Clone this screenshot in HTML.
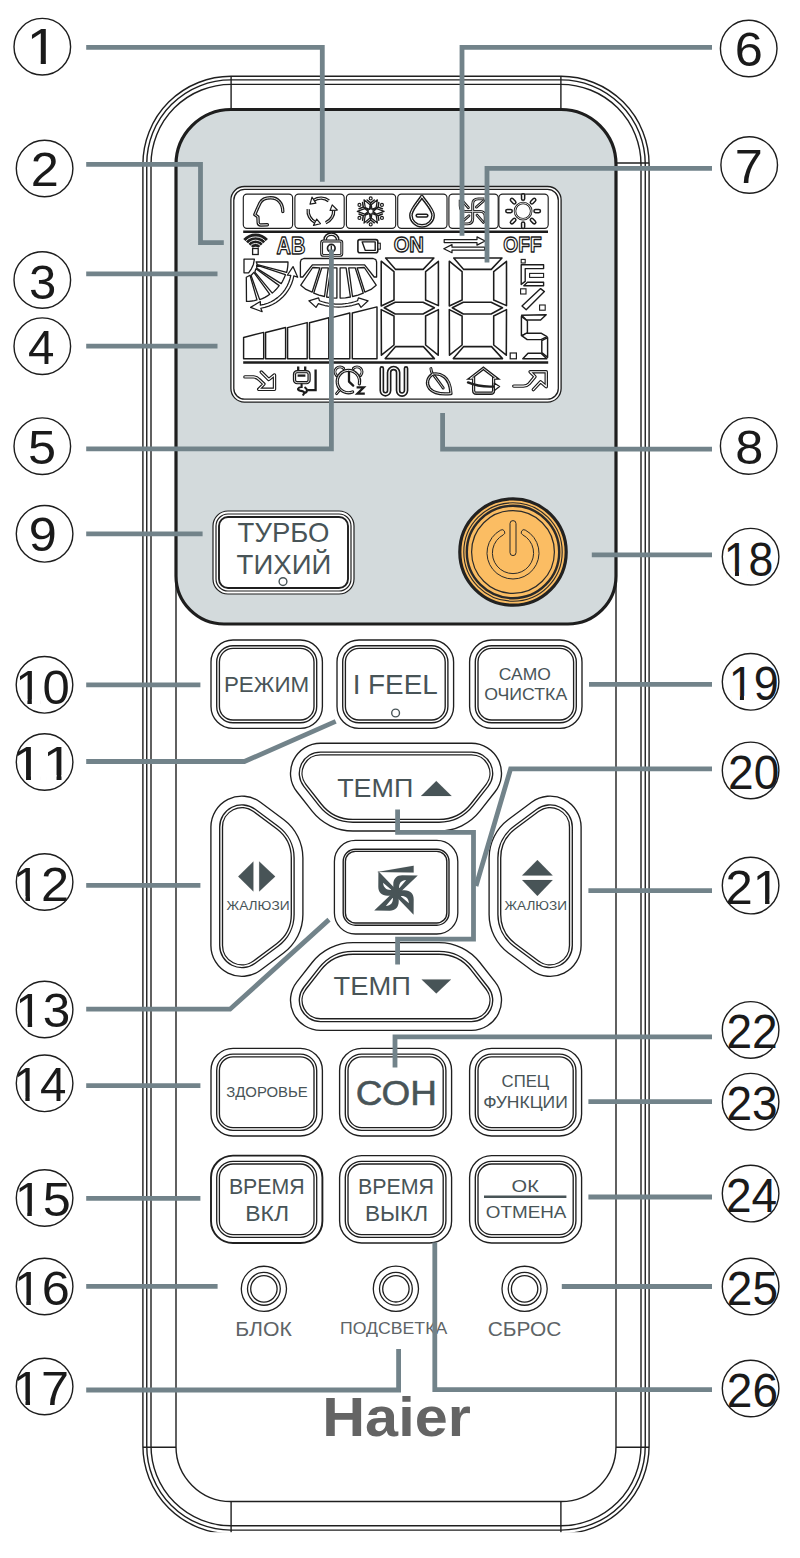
<!DOCTYPE html>
<html lang="ru"><head><meta charset="utf-8"><title>Haier remote</title>
<style>
html,body{margin:0;padding:0;background:#fff}
svg{display:block}
text{font-family:"Liberation Sans",sans-serif}
</style></head><body>
<svg width="800" height="1558" viewBox="0 0 800 1558">
<rect x="0" y="0" width="800" height="1558" fill="#fff"/>
<rect x="142.9" y="76.3" width="506.2" height="1457.5" rx="88" fill="#fff" stroke="#1f1f1f" stroke-width="1.4"/>
<rect x="146.75" y="79.9" width="498.5" height="1450.2" rx="84.2" fill="none" stroke="#1f1f1f" stroke-width="1.4"/>
<rect x="151" y="84.4" width="490" height="1441.4" rx="80" fill="none" stroke="#1f1f1f" stroke-width="1.4"/>
<rect x="176" y="109.5" width="440" height="1392" rx="55" fill="none" stroke="#1f1f1f" stroke-width="1.4"/>
<line x1="231.1" y1="76.3" x2="231.1" y2="109.5" stroke="#1f1f1f" stroke-width="1.4"/>
<line x1="231.1" y1="1501.5" x2="231.1" y2="1533" stroke="#1f1f1f" stroke-width="1.4"/>
<line x1="560.9" y1="76.3" x2="560.9" y2="109.5" stroke="#1f1f1f" stroke-width="1.4"/>
<line x1="560.9" y1="1501.5" x2="560.9" y2="1533" stroke="#1f1f1f" stroke-width="1.4"/>
<line x1="142.9" y1="1447.2" x2="176" y2="1447.2" stroke="#1f1f1f" stroke-width="1.4"/>
<line x1="142.9" y1="163" x2="176" y2="163" stroke="#1f1f1f" stroke-width="1.4"/>
<line x1="616" y1="1447.2" x2="649.1" y2="1447.2" stroke="#1f1f1f" stroke-width="1.4"/>
<line x1="616" y1="163" x2="649.1" y2="163" stroke="#1f1f1f" stroke-width="1.4"/>
<rect x="100" y="1532.2" width="600" height="26" fill="#fff"/>
<path d="M176,164.5 A55,55 0 0 1 231,109.5 H561 A55,55 0 0 1 616,164.5 V576 A48,48 0 0 1 568,624 H224 A48,48 0 0 1 176,576 Z" fill="#d3dadc" stroke="#1e1e1e" stroke-width="3.2" stroke-linejoin="round"/>
<g id="lcd">
<rect x="230.9" y="186.5" width="330.2" height="215.6" rx="13.5" fill="#fff" stroke="#1f1f1f" stroke-width="1.3"/>
<rect x="233.8" y="189.4" width="324.5" height="209.8" rx="10.8" fill="none" stroke="#1f1f1f" stroke-width="1.3"/>
<rect x="243.3" y="194.1" width="49.3" height="34.3" rx="3.6" fill="#fff" stroke="#1f1f1f" stroke-width="1.15"/>
<rect x="294.9" y="194.1" width="49.3" height="34.3" rx="3.6" fill="#fff" stroke="#1f1f1f" stroke-width="1.15"/>
<rect x="346.4" y="194.1" width="49.3" height="34.3" rx="3.6" fill="#fff" stroke="#1f1f1f" stroke-width="1.15"/>
<rect x="397.7" y="194.1" width="49.3" height="34.3" rx="3.6" fill="#fff" stroke="#1f1f1f" stroke-width="1.15"/>
<rect x="448.9" y="194.1" width="49.3" height="34.3" rx="3.6" fill="#fff" stroke="#1f1f1f" stroke-width="1.15"/>
<rect x="498.9" y="194.1" width="49.3" height="34.3" rx="3.6" fill="#fff" stroke="#1f1f1f" stroke-width="1.15"/>
<line x1="243.2" y1="231.75" x2="548" y2="231.75" stroke="#1c1c1c" stroke-width="2.4"/>
<line x1="243.2" y1="362.4" x2="548.2" y2="362.4" stroke="#1c1c1c" stroke-width="2.5"/>
<path d="M282.8,211.5 C282.8,203.5 278,197.8 270.75,197.8 C265,197.8 261.6,199.8 260,203 L257.4,208.6 L254.8,214.6 L257.9,216.8 L258.2,222.8 Q258.4,225 260.8,225 L267.4,224.8" fill="none" stroke="#1c1c1c" stroke-width="3.37" stroke-linecap="round" stroke-linejoin="round"/>
<path d="M282.8,211.5 C282.8,203.5 278,197.8 270.75,197.8 C265,197.8 261.6,199.8 260,203 L257.4,208.6 L254.8,214.6 L257.9,216.8 L258.2,222.8 Q258.4,225 260.8,225 L267.4,224.8" fill="none" stroke="#fff" stroke-width="0.92" stroke-linecap="round" stroke-linejoin="round"/>
<path d="M328.78,200.81 A12.8,12.8 0 0 0 313.74,200.29" fill="none" stroke="#1c1c1c" stroke-width="3.37" stroke-linecap="butt" stroke-linejoin="round"/>
<path d="M328.78,200.81 A12.8,12.8 0 0 0 313.74,200.29" fill="none" stroke="#fff" stroke-width="0.92" stroke-linecap="butt" stroke-linejoin="round"/>
<path d="M310.04,204.12L311.97,197.15L315.89,203.18Z" fill="#fff" stroke="#1c1c1c" stroke-width="1.19" stroke-linejoin="round"/>
<path d="M325.69,222.77 A12.8,12.8 0 0 0 333.67,210.01" fill="none" stroke="#1c1c1c" stroke-width="3.37" stroke-linecap="butt" stroke-linejoin="round"/>
<path d="M325.69,222.77 A12.8,12.8 0 0 0 333.67,210.01" fill="none" stroke="#fff" stroke-width="0.92" stroke-linecap="butt" stroke-linejoin="round"/>
<path d="M332.2,204.89L337.28,210.04L330.09,210.42Z" fill="#fff" stroke="#1c1c1c" stroke-width="1.19" stroke-linejoin="round"/>
<path d="M308.22,209.12 A12.8,12.8 0 0 0 315.29,222.4" fill="none" stroke="#1c1c1c" stroke-width="3.37" stroke-linecap="butt" stroke-linejoin="round"/>
<path d="M308.22,209.12 A12.8,12.8 0 0 0 315.29,222.4" fill="none" stroke="#fff" stroke-width="0.92" stroke-linecap="butt" stroke-linejoin="round"/>
<path d="M320.45,223.69L313.45,225.51L316.72,219.1Z" fill="#fff" stroke="#1c1c1c" stroke-width="1.19" stroke-linejoin="round"/>
<path d="M372.43,212.4L378.15,215.7" stroke="#1c1c1c" stroke-width="1.3" fill="none"/>
<path d="M382.41,213.98L378.15,215.7L378.79,220.26" stroke="#1c1c1c" stroke-width="1.5" fill="none" stroke-linecap="round" stroke-linejoin="round"/>
<circle cx="381.96" cy="217.9" r="1.45" fill="#fff" stroke="#1c1c1c" stroke-width="1.2"/>
<path d="M370.7,213.4L370.7,220" stroke="#1c1c1c" stroke-width="1.3" fill="none"/>
<path d="M374.32,222.83L370.7,220L367.08,222.83" stroke="#1c1c1c" stroke-width="1.5" fill="none" stroke-linecap="round" stroke-linejoin="round"/>
<circle cx="370.7" cy="224.4" r="1.45" fill="#fff" stroke="#1c1c1c" stroke-width="1.2"/>
<path d="M368.97,212.4L363.25,215.7" stroke="#1c1c1c" stroke-width="1.3" fill="none"/>
<path d="M362.61,220.26L363.25,215.7L358.99,213.98" stroke="#1c1c1c" stroke-width="1.5" fill="none" stroke-linecap="round" stroke-linejoin="round"/>
<circle cx="359.44" cy="217.9" r="1.45" fill="#fff" stroke="#1c1c1c" stroke-width="1.2"/>
<path d="M368.97,210.4L363.25,207.1" stroke="#1c1c1c" stroke-width="1.3" fill="none"/>
<path d="M358.99,208.82L363.25,207.1L362.61,202.54" stroke="#1c1c1c" stroke-width="1.5" fill="none" stroke-linecap="round" stroke-linejoin="round"/>
<circle cx="359.44" cy="204.9" r="1.45" fill="#fff" stroke="#1c1c1c" stroke-width="1.2"/>
<path d="M370.7,209.4L370.7,202.8" stroke="#1c1c1c" stroke-width="1.3" fill="none"/>
<path d="M367.08,199.97L370.7,202.8L374.32,199.97" stroke="#1c1c1c" stroke-width="1.5" fill="none" stroke-linecap="round" stroke-linejoin="round"/>
<circle cx="370.7" cy="198.4" r="1.45" fill="#fff" stroke="#1c1c1c" stroke-width="1.2"/>
<path d="M372.43,210.4L378.15,207.1" stroke="#1c1c1c" stroke-width="1.3" fill="none"/>
<path d="M378.79,202.54L378.15,207.1L382.41,208.82" stroke="#1c1c1c" stroke-width="1.5" fill="none" stroke-linecap="round" stroke-linejoin="round"/>
<circle cx="381.96" cy="204.9" r="1.45" fill="#fff" stroke="#1c1c1c" stroke-width="1.2"/>
<path d="M373.1,211.4L376.68,208.61L384.1,211.4L376.68,214.19Z" fill="#fff" stroke="#1c1c1c" stroke-width="1.25" stroke-linejoin="round"/>
<path d="M371.9,213.48L376.11,215.19L377.4,223L371.28,217.97Z" fill="#fff" stroke="#1c1c1c" stroke-width="1.25" stroke-linejoin="round"/>
<path d="M369.5,213.48L370.12,217.97L364,223L365.29,215.19Z" fill="#fff" stroke="#1c1c1c" stroke-width="1.25" stroke-linejoin="round"/>
<path d="M368.3,211.4L364.72,214.19L357.3,211.4L364.72,208.61Z" fill="#fff" stroke="#1c1c1c" stroke-width="1.25" stroke-linejoin="round"/>
<path d="M369.5,209.32L365.29,207.61L364,199.8L370.12,204.83Z" fill="#fff" stroke="#1c1c1c" stroke-width="1.25" stroke-linejoin="round"/>
<path d="M371.9,209.32L371.28,204.83L377.4,199.8L376.11,207.61Z" fill="#fff" stroke="#1c1c1c" stroke-width="1.25" stroke-linejoin="round"/>
<path d="M421.9,196.6 C417.5,203 410.9,210 410.9,215.3 A11.1,10.6 0 0 0 433.1,215.3 C433.1,210 426.4,203 421.9,196.6 Z" fill="none" stroke="#1c1c1c" stroke-width="3.65" stroke-linecap="round" stroke-linejoin="round"/>
<path d="M421.9,196.6 C417.5,203 410.9,210 410.9,215.3 A11.1,10.6 0 0 0 433.1,215.3 C433.1,210 426.4,203 421.9,196.6 Z" fill="none" stroke="#fff" stroke-width="0.98" stroke-linecap="round" stroke-linejoin="round"/>
<path d="M417.6,215.6 H426.4" fill="none" stroke="#1c1c1c" stroke-width="4.34" stroke-linecap="round" stroke-linejoin="round"/>
<path d="M417.6,215.6 H426.4" fill="none" stroke="#fff" stroke-width="1.26" stroke-linecap="round" stroke-linejoin="round"/>
<g transform="translate(472.7,211.4) rotate(0)">
<path d="M11.0,-10.7 L3.7,-4.3" fill="none" stroke="#1c1c1c" stroke-width="2.82" stroke-linecap="round" stroke-linejoin="round"/>
<path d="M11.0,-10.7 L3.7,-4.3" fill="none" stroke="#fff" stroke-width="0.8" stroke-linecap="round" stroke-linejoin="round"/>
</g>
<g transform="translate(472.7,211.4) rotate(90)">
<path d="M11.0,-10.7 L3.7,-4.3" fill="none" stroke="#1c1c1c" stroke-width="2.82" stroke-linecap="round" stroke-linejoin="round"/>
<path d="M11.0,-10.7 L3.7,-4.3" fill="none" stroke="#fff" stroke-width="0.8" stroke-linecap="round" stroke-linejoin="round"/>
</g>
<g transform="translate(472.7,211.4) rotate(180)">
<path d="M11.0,-10.7 L3.7,-4.3" fill="none" stroke="#1c1c1c" stroke-width="2.82" stroke-linecap="round" stroke-linejoin="round"/>
<path d="M11.0,-10.7 L3.7,-4.3" fill="none" stroke="#fff" stroke-width="0.8" stroke-linecap="round" stroke-linejoin="round"/>
</g>
<g transform="translate(472.7,211.4) rotate(270)">
<path d="M11.0,-10.7 L3.7,-4.3" fill="none" stroke="#1c1c1c" stroke-width="2.82" stroke-linecap="round" stroke-linejoin="round"/>
<path d="M11.0,-10.7 L3.7,-4.3" fill="none" stroke="#fff" stroke-width="0.8" stroke-linecap="round" stroke-linejoin="round"/>
</g>
<g transform="translate(472.7,211.4) rotate(0)">
<path d="M0,0 V-7.4 C0,-10.8 2,-12.5 5.6,-12.5 H11.6" fill="none" stroke="#1c1c1c" stroke-width="2.9" stroke-linecap="butt"/>
</g>
<g transform="translate(472.7,211.4) rotate(90)">
<path d="M0,0 V-7.4 C0,-10.8 2,-12.5 5.6,-12.5 H11.6" fill="none" stroke="#1c1c1c" stroke-width="2.9" stroke-linecap="butt"/>
</g>
<g transform="translate(472.7,211.4) rotate(180)">
<path d="M0,0 V-7.4 C0,-10.8 2,-12.5 5.6,-12.5 H11.6" fill="none" stroke="#1c1c1c" stroke-width="2.9" stroke-linecap="butt"/>
</g>
<g transform="translate(472.7,211.4) rotate(270)">
<path d="M0,0 V-7.4 C0,-10.8 2,-12.5 5.6,-12.5 H11.6" fill="none" stroke="#1c1c1c" stroke-width="2.9" stroke-linecap="butt"/>
</g>
<g transform="translate(472.7,211.4) rotate(0)">
<path d="M0,0 V-7.4 C0,-10.8 2,-12.5 5.6,-12.5 H11.0" fill="none" stroke="#fff" stroke-width="0.8" stroke-linecap="butt"/>
</g>
<g transform="translate(472.7,211.4) rotate(90)">
<path d="M0,0 V-7.4 C0,-10.8 2,-12.5 5.6,-12.5 H11.0" fill="none" stroke="#fff" stroke-width="0.8" stroke-linecap="butt"/>
</g>
<g transform="translate(472.7,211.4) rotate(180)">
<path d="M0,0 V-7.4 C0,-10.8 2,-12.5 5.6,-12.5 H11.0" fill="none" stroke="#fff" stroke-width="0.8" stroke-linecap="butt"/>
</g>
<g transform="translate(472.7,211.4) rotate(270)">
<path d="M0,0 V-7.4 C0,-10.8 2,-12.5 5.6,-12.5 H11.0" fill="none" stroke="#fff" stroke-width="0.8" stroke-linecap="butt"/>
</g>
<circle cx="523.1" cy="211.1" r="8.1" fill="#fff" stroke="#1c1c1c" stroke-width="2.5"/>
<circle cx="523.1" cy="211.1" r="8.1" fill="none" stroke="#fff" stroke-width="0.8"/>
<path d="M535.5,211.1L538.9,211.1" fill="none" stroke="#1c1c1c" stroke-width="4.62" stroke-linecap="round" stroke-linejoin="round"/>
<path d="M535.5,211.1L538.9,211.1" fill="none" stroke="#fff" stroke-width="1.61" stroke-linecap="round" stroke-linejoin="round"/>
<path d="M531.87,219.87L534.27,222.27" fill="none" stroke="#1c1c1c" stroke-width="4.62" stroke-linecap="round" stroke-linejoin="round"/>
<path d="M531.87,219.87L534.27,222.27" fill="none" stroke="#fff" stroke-width="1.61" stroke-linecap="round" stroke-linejoin="round"/>
<path d="M523.1,223.5L523.1,226.9" fill="none" stroke="#1c1c1c" stroke-width="4.62" stroke-linecap="round" stroke-linejoin="round"/>
<path d="M523.1,223.5L523.1,226.9" fill="none" stroke="#fff" stroke-width="1.61" stroke-linecap="round" stroke-linejoin="round"/>
<path d="M514.33,219.87L511.93,222.27" fill="none" stroke="#1c1c1c" stroke-width="4.62" stroke-linecap="round" stroke-linejoin="round"/>
<path d="M514.33,219.87L511.93,222.27" fill="none" stroke="#fff" stroke-width="1.61" stroke-linecap="round" stroke-linejoin="round"/>
<path d="M510.7,211.1L507.3,211.1" fill="none" stroke="#1c1c1c" stroke-width="4.62" stroke-linecap="round" stroke-linejoin="round"/>
<path d="M510.7,211.1L507.3,211.1" fill="none" stroke="#fff" stroke-width="1.61" stroke-linecap="round" stroke-linejoin="round"/>
<path d="M514.33,202.33L511.93,199.93" fill="none" stroke="#1c1c1c" stroke-width="4.62" stroke-linecap="round" stroke-linejoin="round"/>
<path d="M514.33,202.33L511.93,199.93" fill="none" stroke="#fff" stroke-width="1.61" stroke-linecap="round" stroke-linejoin="round"/>
<path d="M523.1,198.7L523.1,195.3" fill="none" stroke="#1c1c1c" stroke-width="4.62" stroke-linecap="round" stroke-linejoin="round"/>
<path d="M523.1,198.7L523.1,195.3" fill="none" stroke="#fff" stroke-width="1.61" stroke-linecap="round" stroke-linejoin="round"/>
<path d="M531.87,202.33L534.27,199.93" fill="none" stroke="#1c1c1c" stroke-width="4.62" stroke-linecap="round" stroke-linejoin="round"/>
<path d="M531.87,202.33L534.27,199.93" fill="none" stroke="#fff" stroke-width="1.61" stroke-linecap="round" stroke-linejoin="round"/>
<path d="M255.6,250.2 L243.26,239.09 A16.6,16.6 0 0 1 267.94,239.09 Z" fill="#1f1f1f"/>
<path d="M244.08,243.55 A13.3,13.3 0 0 1 267.12,243.55" fill="none" stroke="#fff" stroke-width="0.9"/>
<path d="M246.94,245.2 A10,10 0 0 1 264.26,245.2" fill="none" stroke="#fff" stroke-width="0.9"/>
<path d="M249.8,246.85 A6.7,6.7 0 0 1 261.4,246.85" fill="none" stroke="#fff" stroke-width="0.9"/>
<circle cx="255.6" cy="250.2" r="3.4" fill="#fff"/>
<rect x="252.6" y="248.5" width="5.6" height="6" fill="#fff" stroke="#1c1c1c" stroke-width="1.3"/>
<text x="276.6" y="253.7" font-size="23" font-weight="bold" fill="#fff" stroke="#1c1c1c" stroke-width="1.35" textLength="28.8" lengthAdjust="spacingAndGlyphs" stroke-linejoin="round">AB</text>
<text x="393.7" y="251.8" font-size="21.6" font-weight="bold" fill="#fff" stroke="#1c1c1c" stroke-width="1.35" textLength="30.2" lengthAdjust="spacingAndGlyphs" stroke-linejoin="round">ON</text>
<text x="503.3" y="252.2" font-size="22.8" font-weight="bold" fill="#fff" stroke="#1c1c1c" stroke-width="1.35" textLength="38.4" lengthAdjust="spacingAndGlyphs" stroke-linejoin="round">OFF</text>
<path d="M325.2,240.6 V239.6 A6.2,5.4 0 0 1 337.6,239.6 V240.6" fill="none" stroke="#1c1c1c" stroke-width="3.79" stroke-linecap="butt" stroke-linejoin="round"/>
<path d="M325.2,240.6 V239.6 A6.2,5.4 0 0 1 337.6,239.6 V240.6" fill="none" stroke="#fff" stroke-width="1.03" stroke-linecap="butt" stroke-linejoin="round"/>
<rect x="321.6" y="241" width="20.2" height="14.4" rx="1.8" fill="#fff" stroke="#1c1c1c" stroke-width="2.9"/>
<rect x="321.6" y="241" width="20.2" height="14.4" rx="1.8" fill="none" stroke="#fff" stroke-width="0.8"/>
<circle cx="331.3" cy="248.2" r="3.8" fill="#fff" stroke="#1f1f1f" stroke-width="1.7"/>
<line x1="331.3" y1="245.6" x2="331.3" y2="250.4" stroke="#1f1f1f" stroke-width="1.3"/>
<rect x="357.9" y="239.6" width="19.9" height="13.2" rx="2" fill="#fff" stroke="#1c1c1c" stroke-width="1.6"/>
<rect x="377.9" y="243.2" width="2.4" height="6" fill="#fff" stroke="#1c1c1c" stroke-width="1.1"/>
<path d="M362.2,241.9L375.2,241.9L375.2,250.4L365.3,250.4Z" fill="#fff" stroke="#1c1c1c" stroke-width="1.38" stroke-linejoin="round"/>
<path d="M444.2,239.5L477,239.5L477,236.9L485.2,241L477,245.1L477,242.5L444.2,242.5Z" fill="#fff" stroke="#1c1c1c" stroke-width="1.25" stroke-linejoin="round"/>
<path d="M484.6,247.2L452,247.2L452,244.6L443.8,248.7L452,252.8L452,250.2L484.6,250.2Z" fill="#fff" stroke="#1c1c1c" stroke-width="1.25" stroke-linejoin="round"/>
<path d="M244,259.2L254.4,259.2L253.4,264.4L251.4,268.8L248.6,272.8L244,272.8Z" fill="#fff" stroke="#1c1c1c" stroke-width="1.31" stroke-linejoin="round"/>
<path d="M256.2,261.85L288,262.02L287.9,264.62L287.65,267.22L287.23,269.79L286.65,272.34L257.33,264.7Z" fill="#fff" stroke="#1c1c1c" stroke-width="1.31" stroke-linejoin="round"/>
<path d="M256.65,265.24L285.39,274.68L284.54,277.02L283.55,279.3L282.43,281.51L281.18,283.66L256.8,268.42Z" fill="#fff" stroke="#1c1c1c" stroke-width="1.31" stroke-linejoin="round"/>
<path d="M255.93,268.82L279.21,285.61L277.65,287.63L275.97,289.56L274.16,291.37L272.25,293.07L254.84,272.17Z" fill="#fff" stroke="#1c1c1c" stroke-width="1.31" stroke-linejoin="round"/>
<path d="M253.84,272.32L269.8,294.28L267.42,295.89L264.93,297.32L262.34,298.56L259.67,299.62L251.06,275.46Z" fill="#fff" stroke="#1c1c1c" stroke-width="1.31" stroke-linejoin="round"/>
<path d="M250.01,275.27L256.98,299.9L254.4,300.54L251.78,301L249.13,301.29L246.48,301.4L246.31,277.3Z" fill="#fff" stroke="#1c1c1c" stroke-width="1.31" stroke-linejoin="round"/>
<path d="M290.79,275.28L287.29,275.25L293.03,266.62L297.69,277.28L293.84,275.82L292.92,279.83L291.59,283.72L289.87,287.45L287.77,290.99L285.31,294.29L282.53,297.32L279.45,300.05L276.11,302.45L272.54,304.49L268.77,306.14L264.86,307.41L260.83,308.26L260.83,308.26L262.15,311.74L250.55,307.39L260.35,301.5L260.35,305.2L264.06,304.41L267.67,303.25L271.14,301.72L274.44,299.84L277.52,297.63L280.36,295.11L282.92,292.32L285.19,289.27L287.12,286.01L288.71,282.57L289.94,278.98L290.79,275.28Z" fill="#fff" stroke="#1c1c1c" stroke-width="1.25" stroke-linejoin="round"/>
<path d="M300.4,277L300.4,262L301.2,259.6L303.8,258.5L373.2,258.5L375.8,259.6L376.6,262L376.6,277L374.2,277L364.6,264.8L312.4,264.8L302.8,277Z" fill="#fff" stroke="#1c1c1c" stroke-width="1.31" stroke-linejoin="round"/>
<path d="M312.7,267.5L319.9,267.8L312.1,292.2L306,289.4L300.8,285.2Z" fill="#fff" stroke="#1c1c1c" stroke-width="1.31" stroke-linejoin="round"/>
<path d="M364.3,267.5L357.1,267.8L364.9,292.2L371,289.4L376.2,285.2Z" fill="#fff" stroke="#1c1c1c" stroke-width="1.31" stroke-linejoin="round"/>
<path d="M321.8,267.8L328.3,267.8L324.5,296.5L319,295.2L313.7,293.2Z" fill="#fff" stroke="#1c1c1c" stroke-width="1.31" stroke-linejoin="round"/>
<path d="M355.2,267.8L348.7,267.8L352.5,296.5L358,295.2L363.3,293.2Z" fill="#fff" stroke="#1c1c1c" stroke-width="1.31" stroke-linejoin="round"/>
<path d="M330.9,267.8L336.9,267.8L336.9,298.1L331.6,297.8L326.6,297Z" fill="#fff" stroke="#1c1c1c" stroke-width="1.31" stroke-linejoin="round"/>
<path d="M346.1,267.8L340.1,267.8L340.1,298.1L345.4,297.8L350.4,297Z" fill="#fff" stroke="#1c1c1c" stroke-width="1.31" stroke-linejoin="round"/>
<path d="M357.55,300.74L358.4,297.9L368.1,300.8L361,307.4L358.58,303.56L355.34,304.63L352.04,305.52L348.69,306.21L345.31,306.7L341.91,307L338.5,307.1L335.09,307L331.69,306.7L328.31,306.21L324.96,305.52L321.66,304.63L318.42,303.56L316,307.4L308.9,300.8L318.6,297.9L319.45,300.74L322.53,301.76L325.65,302.6L328.83,303.25L332.03,303.72L335.26,304.01L338.5,304.1L341.74,304.01L344.97,303.72L348.17,303.25L351.35,302.6L354.47,301.76Z" fill="#fff" stroke="#1c1c1c" stroke-width="1.25" stroke-linejoin="round"/>
<path d="M243.6,337.5L263.7,332.38L263.7,358.7L243.6,358.7Z" fill="#fff" stroke="#1c1c1c" stroke-width="1.44" stroke-linejoin="round"/>
<path d="M265.6,332.55L285.6,327.45L285.6,358.7L265.6,358.7Z" fill="#fff" stroke="#1c1c1c" stroke-width="1.44" stroke-linejoin="round"/>
<path d="M287.6,327.6L307.2,322.6L307.2,358.7L287.6,358.7Z" fill="#fff" stroke="#1c1c1c" stroke-width="1.44" stroke-linejoin="round"/>
<path d="M309.5,322.68L328.8,317.74L328.8,358.7L309.5,358.7Z" fill="#fff" stroke="#1c1c1c" stroke-width="1.44" stroke-linejoin="round"/>
<path d="M330.8,317.89L349.8,313.02L349.8,358.7L330.8,358.7Z" fill="#fff" stroke="#1c1c1c" stroke-width="1.44" stroke-linejoin="round"/>
<path d="M352.3,313.05L377,306.9L377,358.7L352.3,358.7Z" fill="#fff" stroke="#1c1c1c" stroke-width="1.44" stroke-linejoin="round"/>
<path d="M385.6,258L433.9,258L423.2,269.4L395.6,269.4Z" fill="#fff" stroke="#1c1c1c" stroke-width="1.56" stroke-linejoin="round"/>
<path d="M381.2,261.2L394,271.6L394,300L381.2,306Z" fill="#fff" stroke="#1c1c1c" stroke-width="1.56" stroke-linejoin="round"/>
<path d="M438.4,261.4L425.6,271.6L425.6,300L438.4,305.6Z" fill="#fff" stroke="#1c1c1c" stroke-width="1.56" stroke-linejoin="round"/>
<path d="M384.2,307.8L395.2,302.2L423,302.2L434.4,307.8L423,314L395.2,314Z" fill="#fff" stroke="#1c1c1c" stroke-width="1.56" stroke-linejoin="round"/>
<path d="M381.2,309.6L394,316L394,345L381.4,355.2Z" fill="#fff" stroke="#1c1c1c" stroke-width="1.56" stroke-linejoin="round"/>
<path d="M438.4,309.6L425.6,316L425.6,345L438.2,355.2Z" fill="#fff" stroke="#1c1c1c" stroke-width="1.56" stroke-linejoin="round"/>
<path d="M385.2,358.6L395.6,346.6L423.4,346.6L434.4,358.6Z" fill="#fff" stroke="#1c1c1c" stroke-width="1.56" stroke-linejoin="round"/>
<path d="M453.7,258L502,258L491.3,269.4L463.7,269.4Z" fill="#fff" stroke="#1c1c1c" stroke-width="1.56" stroke-linejoin="round"/>
<path d="M449.3,261.2L462.1,271.6L462.1,300L449.3,306Z" fill="#fff" stroke="#1c1c1c" stroke-width="1.56" stroke-linejoin="round"/>
<path d="M506.5,261.4L493.7,271.6L493.7,300L506.5,305.6Z" fill="#fff" stroke="#1c1c1c" stroke-width="1.56" stroke-linejoin="round"/>
<path d="M452.3,307.8L463.3,302.2L491.1,302.2L502.5,307.8L491.1,314L463.3,314Z" fill="#fff" stroke="#1c1c1c" stroke-width="1.56" stroke-linejoin="round"/>
<path d="M449.3,309.6L462.1,316L462.1,345L449.5,355.2Z" fill="#fff" stroke="#1c1c1c" stroke-width="1.56" stroke-linejoin="round"/>
<path d="M506.5,309.6L493.7,316L493.7,345L506.3,355.2Z" fill="#fff" stroke="#1c1c1c" stroke-width="1.56" stroke-linejoin="round"/>
<path d="M453.3,358.6L463.7,346.6L491.5,346.6L502.5,358.6Z" fill="#fff" stroke="#1c1c1c" stroke-width="1.56" stroke-linejoin="round"/>
<rect x="521.2" y="259.4" width="4" height="3.6" fill="#fff" stroke="#1c1c1c" stroke-width="1.1"/>
<path d="M521.2,264.8L543.6,264.8L543.6,268.6L525.2,268.6L525.2,281.4L521.2,284.4Z" fill="#fff" stroke="#1c1c1c" stroke-width="1.38" stroke-linejoin="round"/>
<rect x="529.6" y="273.4" width="14" height="4" fill="#fff" stroke="#1c1c1c" stroke-width="1.1"/>
<path d="M523.8,285.7L527.4,282.3L543.6,282.3L543.6,285.7Z" fill="#fff" stroke="#1c1c1c" stroke-width="1.38" stroke-linejoin="round"/>
<rect x="520.6" y="288.8" width="5.4" height="5.2" fill="#fff" stroke="#1c1c1c" stroke-width="1.1"/>
<path d="M522,306L526.2,309.8L544.4,291.6L540.6,288.6Z" fill="#fff" stroke="#1c1c1c" stroke-width="1.38" stroke-linejoin="round"/>
<rect x="539.6" y="305" width="5.6" height="5.2" fill="#fff" stroke="#1c1c1c" stroke-width="1.1"/>
<path d="M521.6,315.2L546.2,314.8L540.6,320L526.4,320Z" fill="#fff" stroke="#1c1c1c" stroke-width="1.44" stroke-linejoin="round"/>
<path d="M521.4,316.4L527.4,321L527.4,333.2L521.4,335.6Z" fill="#fff" stroke="#1c1c1c" stroke-width="1.44" stroke-linejoin="round"/>
<path d="M522,335.9L526.4,333.2L541,333.2L547,336.6L541,339.6L527.2,339.6Z" fill="#fff" stroke="#1c1c1c" stroke-width="1.44" stroke-linejoin="round"/>
<path d="M547.6,337.6L541.8,340.6L541.8,352.6L547.6,357.4Z" fill="#fff" stroke="#1c1c1c" stroke-width="1.44" stroke-linejoin="round"/>
<path d="M522.8,358.8L528,353.2L541,353.2L546.8,358.8Z" fill="#fff" stroke="#1c1c1c" stroke-width="1.44" stroke-linejoin="round"/>
<rect x="510.2" y="353" width="6.2" height="5.8" fill="#fff" stroke="#1c1c1c" stroke-width="1.2"/>
<path d="M244.9,376.9 H253.6 Q257,377.2 259.2,379.6 L263.9,384.1 L258.7,389.3 H274.5 V374.9 L268.75,379.5 L261.3,372.05" fill="none" stroke="#1c1c1c" stroke-width="3.44" stroke-linecap="round" stroke-linejoin="round"/>
<path d="M244.9,376.9 H253.6 Q257,377.2 259.2,379.6 L263.9,384.1 L258.7,389.3 H274.5 V374.9 L268.75,379.5 L261.3,372.05" fill="none" stroke="#fff" stroke-width="1.15" stroke-linecap="round" stroke-linejoin="round"/>
<rect x="294.5" y="371.7" width="14.6" height="11.0" rx="2.6" fill="#fff" stroke="#1c1c1c" stroke-width="3.3"/>
<rect x="294.5" y="371.7" width="14.6" height="11.0" rx="2.6" fill="none" stroke="#fff" stroke-width="0.8"/>
<path d="M298.2,370.2 V366.6 M305.2,370.2 V366.6" stroke="#1c1c1c" stroke-width="2.3" fill="none"/>
<path d="M297.6,375.6 H305.4" stroke="#1c1c1c" stroke-width="2.3" fill="none"/>
<path d="M301.6,384.4 V387 C297.8,387.2 296.6,390 300,390.6 C304,391.2 305.4,392.4 303.2,394.8 M305.2,387.6 C308,389.6 307.2,392.2 304.8,393" stroke="#1c1c1c" stroke-width="2.1" fill="none" stroke-linecap="round"/>
<path d="M315.6,369.4 V390.2 H307.2" stroke="#1c1c1c" stroke-width="2.3" fill="none"/>
<path d="M352.6,391.98 A11.2,11.2 0 1 1 359.36,383.93" fill="none" stroke="#1c1c1c" stroke-width="3.24" stroke-linecap="round" stroke-linejoin="round"/>
<path d="M352.6,391.98 A11.2,11.2 0 1 1 359.36,383.93" fill="none" stroke="#fff" stroke-width="0.92" stroke-linecap="round" stroke-linejoin="round"/>
<path d="M336.4,375.4 A4.6,4.6 0 0 1 343.6,368.4" fill="none" stroke="#1c1c1c" stroke-width="2.96" stroke-linecap="round" stroke-linejoin="round"/>
<path d="M336.4,375.4 A4.6,4.6 0 0 1 343.6,368.4" fill="none" stroke="#fff" stroke-width="0.86" stroke-linecap="round" stroke-linejoin="round"/>
<path d="M353.4,368.4 A4.6,4.6 0 0 1 360.6,375.4" fill="none" stroke="#1c1c1c" stroke-width="2.96" stroke-linecap="round" stroke-linejoin="round"/>
<path d="M353.4,368.4 A4.6,4.6 0 0 1 360.6,375.4" fill="none" stroke="#fff" stroke-width="0.86" stroke-linecap="round" stroke-linejoin="round"/>
<path d="M339.2,390.4 L336.6,393.6" fill="none" stroke="#1c1c1c" stroke-width="2.96" stroke-linecap="round" stroke-linejoin="round"/>
<path d="M339.2,390.4 L336.6,393.6" fill="none" stroke="#fff" stroke-width="0.86" stroke-linecap="round" stroke-linejoin="round"/>
<path d="M349,371.8 V381.6 L353.2,385.6" stroke="#1c1c1c" stroke-width="2.3" fill="none" stroke-linecap="round" stroke-linejoin="round"/>
<path d="M356.6,387.4 H363.8 L357.4,393.6 H364.8" stroke="#1c1c1c" stroke-width="2.2" fill="none" stroke-linejoin="miter"/>
<path d="M381.8,368.4 V390.6 A3.65,3.65 0 0 0 389.1,390.6 V372.6 A4.5,4.5 0 0 1 398.1,372.6 V390.6 A3.95,3.95 0 0 0 406,390.6 V368.4" fill="none" stroke="#1c1c1c" stroke-width="4.75" stroke-linecap="round" stroke-linejoin="round"/>
<path d="M381.8,368.4 V390.6 A3.65,3.65 0 0 0 389.1,390.6 V372.6 A4.5,4.5 0 0 1 398.1,372.6 V390.6 A3.95,3.95 0 0 0 406,390.6 V368.4" fill="none" stroke="#fff" stroke-width="1.49" stroke-linecap="round" stroke-linejoin="round"/>
<path d="M430.9,368.6 C431.2,371 431.8,372.6 432.6,374.2" fill="none" stroke="#1c1c1c" stroke-width="2.96" stroke-linecap="round" stroke-linejoin="round"/>
<path d="M430.9,368.6 C431.2,371 431.8,372.6 432.6,374.2" fill="none" stroke="#fff" stroke-width="0.8" stroke-linecap="round" stroke-linejoin="round"/>
<path d="M432.6,374.2 C427.6,377.4 425.6,383.4 429.6,388.6 C434,393.6 443,394.4 451,393.6 C450.6,388 449.6,380.6 444,376.6 C440.4,374 436.2,373.4 432.6,374.2 Z" fill="none" stroke="#1c1c1c" stroke-width="3.24" stroke-linecap="round" stroke-linejoin="round"/>
<path d="M432.6,374.2 C427.6,377.4 425.6,383.4 429.6,388.6 C434,393.6 443,394.4 451,393.6 C450.6,388 449.6,380.6 444,376.6 C440.4,374 436.2,373.4 432.6,374.2 Z" fill="none" stroke="#fff" stroke-width="0.86" stroke-linecap="round" stroke-linejoin="round"/>
<path d="M434.4,376 C437.6,380 440.4,384.4 443.2,388" fill="none" stroke="#1c1c1c" stroke-width="2.96" stroke-linecap="round" stroke-linejoin="round"/>
<path d="M434.4,376 C437.6,380 440.4,384.4 443.2,388" fill="none" stroke="#fff" stroke-width="0.8" stroke-linecap="round" stroke-linejoin="round"/>
<path d="M470.6,378.2 L483.4,368.4 L496.2,378.2 H493.6 V390.6 Q493.6,393.4 490.8,393.4 H476.4 Q473.6,393.4 473.6,390.6 V378.2 Z" fill="none" stroke="#1c1c1c" stroke-width="3.24" stroke-linecap="round" stroke-linejoin="miter"/>
<path d="M470.6,378.2 L483.4,368.4 L496.2,378.2 H493.6 V390.6 Q493.6,393.4 490.8,393.4 H476.4 Q473.6,393.4 473.6,390.6 V378.2 Z" fill="none" stroke="#fff" stroke-width="0.86" stroke-linecap="round" stroke-linejoin="miter"/>
<path d="M475,392.6 H492.4" stroke="#555" stroke-width="2.2" fill="none"/>
<path d="M468,382.4 C476,386 486,387 495.4,386.4" stroke="#1f1f1f" stroke-width="2.4" fill="none" stroke-linecap="round"/>
<path d="M494.2,383L499.6,386.6L494.4,390.4Z" fill="#fff" stroke="#1c1c1c" stroke-width="1.25" stroke-linejoin="round"/>
<path d="M513.75,386.1 H523.4 Q527,386 529.2,383.6 L535,376.65 L530.1,371.75 H546.25 V386.7 L540.5,381.8 L533.3,389.6" fill="none" stroke="#1c1c1c" stroke-width="3.44" stroke-linecap="round" stroke-linejoin="round"/>
<path d="M513.75,386.1 H523.4 Q527,386 529.2,383.6 L535,376.65 L530.1,371.75 H546.25 V386.7 L540.5,381.8 L533.3,389.6" fill="none" stroke="#fff" stroke-width="1.15" stroke-linecap="round" stroke-linejoin="round"/>
</g>
<path d="M228,511L339,511A15,15 0 0 1 354,526L354,579A15,15 0 0 1 339,594L228,594A15,15 0 0 1 213,579L213,526A15,15 0 0 1 228,511Z" fill="#fff" stroke="#1f1f1f" stroke-width="1.2"/>
<path d="M228,514L339,514A12,12 0 0 1 351,526L351,579A12,12 0 0 1 339,591L228,591A12,12 0 0 1 216,579L216,526A12,12 0 0 1 228,514Z" fill="none" stroke="#1f1f1f" stroke-width="1.2"/>
<path d="M228,517L339,517A9,9 0 0 1 348,526L348,579A9,9 0 0 1 339,588L228,588A9,9 0 0 1 219,579L219,526A9,9 0 0 1 228,517Z" fill="none" stroke="#1f1f1f" stroke-width="1.9"/>
<text x="283.5" y="542" font-size="27.4" fill="#485457" text-anchor="middle" textLength="91.74" lengthAdjust="spacingAndGlyphs" >ТУРБО</text>
<text x="284" y="574.4" font-size="27.4" fill="#485457" text-anchor="middle" textLength="94.74" lengthAdjust="spacingAndGlyphs" >ТИХИЙ</text>
<circle cx="283" cy="581.6" r="3.9" fill="#fff" stroke="#485457" stroke-width="1.4"/>
<circle cx="513" cy="552" r="53.2" fill="#fbbd63" stroke="#222" stroke-width="3.2"/>
<circle cx="513" cy="552" r="49.2" fill="none" stroke="#2a2a2a" stroke-width="1.1"/>
<circle cx="513" cy="552" r="46.2" fill="none" stroke="#2a2a2a" stroke-width="2.4"/>
<circle cx="513" cy="552" r="41.4" fill="none" stroke="#2a2a2a" stroke-width="1.2"/>
<path d="M525.21,530.04 A26,26 0 1 1 500.79,530.04 A2.7,2.7 0 0 1 503.33,534.81 A20.6,20.6 0 1 0 522.67,534.81 A2.7,2.7 0 0 1 525.21,530.04Z" fill="#fbbd63" stroke="#2a2a2a" stroke-width="1.0"/>
<rect x="510" y="520.6" width="6" height="35" rx="3" fill="#fbbd63" stroke="#2a2a2a" stroke-width="1.0"/>
<path d="M233,640L300.4,640A22,22 0 0 1 322.4,662L322.4,706.4A22,22 0 0 1 300.4,728.4L233,728.4A22,22 0 0 1 211,706.4L211,662A22,22 0 0 1 233,640Z" fill="#fff" stroke="#1f1f1f" stroke-width="1.35"/>
<path d="M233,645.7L300.4,645.7A16.3,16.3 0 0 1 316.7,662L316.7,706.4A16.3,16.3 0 0 1 300.4,722.7L233,722.7A16.3,16.3 0 0 1 216.7,706.4L216.7,662A16.3,16.3 0 0 1 233,645.7Z" fill="none" stroke="#1f1f1f" stroke-width="1.35"/>
<path d="M233,648.4L300.4,648.4A13.6,13.6 0 0 1 314,662L314,706.4A13.6,13.6 0 0 1 300.4,720L233,720A13.6,13.6 0 0 1 219.4,706.4L219.4,662A13.6,13.6 0 0 1 233,648.4Z" fill="none" stroke="#1f1f1f" stroke-width="1.35"/>
<text x="266.5" y="692" font-size="21.8" fill="#485457" text-anchor="middle" textLength="85.18" lengthAdjust="spacingAndGlyphs" >РЕЖИМ</text>
<path d="M359,640L431.6,640A22,22 0 0 1 453.6,662L453.6,706.4A22,22 0 0 1 431.6,728.4L359,728.4A22,22 0 0 1 337,706.4L337,662A22,22 0 0 1 359,640Z" fill="#fff" stroke="#1f1f1f" stroke-width="1.35"/>
<path d="M359,645.7L431.6,645.7A16.3,16.3 0 0 1 447.9,662L447.9,706.4A16.3,16.3 0 0 1 431.6,722.7L359,722.7A16.3,16.3 0 0 1 342.7,706.4L342.7,662A16.3,16.3 0 0 1 359,645.7Z" fill="none" stroke="#1f1f1f" stroke-width="1.35"/>
<path d="M359,648.4L431.6,648.4A13.6,13.6 0 0 1 445.2,662L445.2,706.4A13.6,13.6 0 0 1 431.6,720L359,720A13.6,13.6 0 0 1 345.4,706.4L345.4,662A13.6,13.6 0 0 1 359,648.4Z" fill="none" stroke="#1f1f1f" stroke-width="1.35"/>
<text x="395.2" y="694.4" font-size="27" fill="#485457" text-anchor="middle" textLength="85.1" lengthAdjust="spacingAndGlyphs" >I FEEL</text>
<circle cx="395.6" cy="713" r="3.9" fill="#fff" stroke="#485457" stroke-width="1.4"/>
<path d="M491.6,640L560,640A22,22 0 0 1 582,662L582,706.4A22,22 0 0 1 560,728.4L491.6,728.4A22,22 0 0 1 469.6,706.4L469.6,662A22,22 0 0 1 491.6,640Z" fill="#fff" stroke="#1f1f1f" stroke-width="1.35"/>
<path d="M491.6,645.7L560,645.7A16.3,16.3 0 0 1 576.3,662L576.3,706.4A16.3,16.3 0 0 1 560,722.7L491.6,722.7A16.3,16.3 0 0 1 475.3,706.4L475.3,662A16.3,16.3 0 0 1 491.6,645.7Z" fill="none" stroke="#1f1f1f" stroke-width="1.35"/>
<path d="M491.6,648.4L560,648.4A13.6,13.6 0 0 1 573.6,662L573.6,706.4A13.6,13.6 0 0 1 560,720L491.6,720A13.6,13.6 0 0 1 478,706.4L478,662A13.6,13.6 0 0 1 491.6,648.4Z" fill="none" stroke="#1f1f1f" stroke-width="1.35"/>
<text x="524.8" y="680.2" font-size="16" fill="#485457" text-anchor="middle" textLength="52" lengthAdjust="spacingAndGlyphs" >САМО</text>
<text x="525.7" y="700.4" font-size="16" fill="#485457" text-anchor="middle" textLength="83" lengthAdjust="spacingAndGlyphs" >ОЧИСТКА</text>
<path d="M320.5,743.25L471.5,743.25A30,30 0 0 1 495.09,791.79L479.88,811.13A52,52 0 0 1 439,831L353,831A52,52 0 0 1 312.12,811.13L296.91,791.79A30,30 0 0 1 320.5,743.25Z" fill="#fff" stroke="#1f1f1f" stroke-width="1.35"/>
<path d="M320.5,752.05L471.5,752.05A21.2,21.2 0 0 1 488.17,786.35L472.97,805.69A43.2,43.2 0 0 1 439,822.2L353,822.2A43.2,43.2 0 0 1 319.03,805.69L303.83,786.35A21.2,21.2 0 0 1 320.5,752.05Z" fill="none" stroke="#1f1f1f" stroke-width="1.35"/>
<path d="M320.5,754.85L471.5,754.85A18.4,18.4 0 0 1 485.97,784.62L470.76,803.96A40.4,40.4 0 0 1 439,819.4L353,819.4A40.4,40.4 0 0 1 321.24,803.96L306.03,784.62A18.4,18.4 0 0 1 320.5,754.85Z" fill="none" stroke="#1f1f1f" stroke-width="1.35"/>
<path d="M353,942.6L439,942.6A52,52 0 0 1 479.88,962.47L495.09,981.81A30,30 0 0 1 471.5,1030.35L320.5,1030.35A30,30 0 0 1 296.91,981.81L312.12,962.47A52,52 0 0 1 353,942.6Z" fill="#fff" stroke="#1f1f1f" stroke-width="1.35"/>
<path d="M353,951.4L439,951.4A43.2,43.2 0 0 1 472.97,967.91L488.17,987.25A21.2,21.2 0 0 1 471.5,1021.55L320.5,1021.55A21.2,21.2 0 0 1 303.83,987.25L319.03,967.91A43.2,43.2 0 0 1 353,951.4Z" fill="none" stroke="#1f1f1f" stroke-width="1.35"/>
<path d="M353,954.2L439,954.2A40.4,40.4 0 0 1 470.76,969.64L485.97,988.98A18.4,18.4 0 0 1 471.5,1018.75L320.5,1018.75A18.4,18.4 0 0 1 306.03,988.98L321.24,969.64A40.4,40.4 0 0 1 353,954.2Z" fill="none" stroke="#1f1f1f" stroke-width="1.35"/>
<text x="375.25" y="796.6" font-size="26" fill="#485457" text-anchor="middle" textLength="76.1" lengthAdjust="spacingAndGlyphs" >ТЕМП</text>
<path d="M421,796L436.3,781L451.6,796Z" fill="#485457" stroke="#1c1c1c" stroke-width="0.1" stroke-linejoin="round"/>
<text x="372.25" y="995" font-size="25.6" fill="#485457" text-anchor="middle" textLength="77.26" lengthAdjust="spacingAndGlyphs" >ТЕМП</text>
<path d="M421.6,979.4L451,979.4L436.3,993.6Z" fill="#485457" stroke="#1c1c1c" stroke-width="0.1" stroke-linejoin="round"/>
<path d="M260.43,802.25L283.59,819.52A48,48 0 0 1 302.9,858L302.9,914.5A48,48 0 0 1 283.59,952.98L260.43,970.25A31,31 0 0 1 210.9,945.4L210.9,827.1A31,31 0 0 1 260.43,802.25Z" fill="#fff" stroke="#1f1f1f" stroke-width="1.35"/>
<path d="M255.17,809.3L278.33,826.58A39.2,39.2 0 0 1 294.1,858L294.1,914.5A39.2,39.2 0 0 1 278.33,945.92L255.17,963.2A22.2,22.2 0 0 1 219.7,945.4L219.7,827.1A22.2,22.2 0 0 1 255.17,809.3Z" fill="none" stroke="#1f1f1f" stroke-width="1.35"/>
<path d="M253.5,811.55L276.66,828.82A36.4,36.4 0 0 1 291.3,858L291.3,914.5A36.4,36.4 0 0 1 276.66,943.68L253.5,960.95A19.4,19.4 0 0 1 222.5,945.4L222.5,827.1A19.4,19.4 0 0 1 253.5,811.55Z" fill="none" stroke="#1f1f1f" stroke-width="1.35"/>
<path d="M581.1,827.1L581.1,945.4A31,31 0 0 1 531.57,970.25L508.41,952.98A48,48 0 0 1 489.1,914.5L489.1,858A48,48 0 0 1 508.41,819.52L531.57,802.25A31,31 0 0 1 581.1,827.1Z" fill="#fff" stroke="#1f1f1f" stroke-width="1.35"/>
<path d="M572.3,827.1L572.3,945.4A22.2,22.2 0 0 1 536.83,963.2L513.67,945.92A39.2,39.2 0 0 1 497.9,914.5L497.9,858A39.2,39.2 0 0 1 513.67,826.58L536.83,809.3A22.2,22.2 0 0 1 572.3,827.1Z" fill="none" stroke="#1f1f1f" stroke-width="1.35"/>
<path d="M569.5,827.1L569.5,945.4A19.4,19.4 0 0 1 538.5,960.95L515.34,943.68A36.4,36.4 0 0 1 500.7,914.5L500.7,858A36.4,36.4 0 0 1 515.34,828.82L538.5,811.55A19.4,19.4 0 0 1 569.5,827.1Z" fill="none" stroke="#1f1f1f" stroke-width="1.35"/>
<path d="M238.2,876.5L253.4,861.4L253.4,891.5Z" fill="#485457" stroke="#1c1c1c" stroke-width="0.1" stroke-linejoin="round"/>
<path d="M275.2,876.5L259.2,861.4L259.2,891.5Z" fill="#485457" stroke="#1c1c1c" stroke-width="0.1" stroke-linejoin="round"/>
<text x="258" y="909.9" font-size="12.2" fill="#485457" text-anchor="middle" textLength="63.02" lengthAdjust="spacingAndGlyphs" >ЖАЛЮЗИ</text>
<path d="M537.4,860L522.1,875.4L552.7,875.4Z" fill="#485457" stroke="#1c1c1c" stroke-width="0.1" stroke-linejoin="round"/>
<path d="M537.4,895.9L522.1,880.1L552.7,880.1Z" fill="#485457" stroke="#1c1c1c" stroke-width="0.1" stroke-linejoin="round"/>
<text x="535.8" y="909.9" font-size="12.2" fill="#485457" text-anchor="middle" textLength="62.42" lengthAdjust="spacingAndGlyphs" >ЖАЛЮЗИ</text>
<path d="M355.4,840.4L436.8,840.4A21,21 0 0 1 457.8,861.4L457.8,913A21,21 0 0 1 436.8,934L355.4,934A21,21 0 0 1 334.4,913L334.4,861.4A21,21 0 0 1 355.4,840.4Z" fill="#fff" stroke="#1f1f1f" stroke-width="1.3"/>
<path d="M355.4,849.2L436.8,849.2A12.2,12.2 0 0 1 449,861.4L449,913A12.2,12.2 0 0 1 436.8,925.2L355.4,925.2A12.2,12.2 0 0 1 343.2,913L343.2,861.4A12.2,12.2 0 0 1 355.4,849.2Z" fill="none" stroke="#1f1f1f" stroke-width="1.4"/>
<path d="M355.4,851.4L436.8,851.4A10,10 0 0 1 446.8,861.4L446.8,913A10,10 0 0 1 436.8,923L355.4,923A10,10 0 0 1 345.4,913L345.4,861.4A10,10 0 0 1 355.4,851.4Z" fill="none" stroke="#1f1f1f" stroke-width="1.4"/>
<g transform="translate(396,893) rotate(0)">
<path d="M-2.7,0.5 L-2.7,-8.6 C-2.7,-14.4 0.8,-17.7 6.2,-17.7 L21.8,-17.6 L2.9,0.5 Z M3.1,-4.9 C2.9,-9.6 5.2,-12.6 10.2,-12.9 L3.5,-5.0 Z" fill="#485457" fill-rule="evenodd"/>
</g>
<g transform="translate(396,893) rotate(90)">
<path d="M-2.7,0.5 L-2.7,-8.6 C-2.7,-14.4 0.8,-17.7 6.2,-17.7 L21.8,-17.6 L2.9,0.5 Z M3.1,-4.9 C2.9,-9.6 5.2,-12.6 10.2,-12.9 L3.5,-5.0 Z" fill="#485457" fill-rule="evenodd"/>
</g>
<g transform="translate(396,893) rotate(180)">
<path d="M-2.7,0.5 L-2.7,-8.6 C-2.7,-14.4 0.8,-17.7 6.2,-17.7 L21.8,-17.6 L2.9,0.5 Z M3.1,-4.9 C2.9,-9.6 5.2,-12.6 10.2,-12.9 L3.5,-5.0 Z" fill="#485457" fill-rule="evenodd"/>
</g>
<g transform="translate(396,893) rotate(270)">
<path d="M-2.7,0.5 L-2.7,-8.6 C-2.7,-14.4 0.8,-17.7 6.2,-17.7 L21.8,-17.6 L2.9,0.5 Z M3.1,-4.9 C2.9,-9.6 5.2,-12.6 10.2,-12.9 L3.5,-5.0 Z" fill="#485457" fill-rule="evenodd"/>
</g>
<path d="M377.3,872.1L413.6,865.8L413.6,872.5Z" fill="#485457" stroke="#1c1c1c" stroke-width="0.1" stroke-linejoin="round"/>
<path d="M233,1048.4L300.4,1048.4A22,22 0 0 1 322.4,1070.4L322.4,1114A22,22 0 0 1 300.4,1136L233,1136A22,22 0 0 1 211,1114L211,1070.4A22,22 0 0 1 233,1048.4Z" fill="#fff" stroke="#1f1f1f" stroke-width="1.35"/>
<path d="M233,1054.1L300.4,1054.1A16.3,16.3 0 0 1 316.7,1070.4L316.7,1114A16.3,16.3 0 0 1 300.4,1130.3L233,1130.3A16.3,16.3 0 0 1 216.7,1114L216.7,1070.4A16.3,16.3 0 0 1 233,1054.1Z" fill="none" stroke="#1f1f1f" stroke-width="1.35"/>
<path d="M233,1056.8L300.4,1056.8A13.6,13.6 0 0 1 314,1070.4L314,1114A13.6,13.6 0 0 1 300.4,1127.6L233,1127.6A13.6,13.6 0 0 1 219.4,1114L219.4,1070.4A13.6,13.6 0 0 1 233,1056.8Z" fill="none" stroke="#1f1f1f" stroke-width="1.35"/>
<text x="267" y="1097" font-size="15.4" fill="#485457" text-anchor="middle" textLength="81.54" lengthAdjust="spacingAndGlyphs" >ЗДОРОВЬЕ</text>
<path d="M361.6,1048.4L429.6,1048.4A22,22 0 0 1 451.6,1070.4L451.6,1114A22,22 0 0 1 429.6,1136L361.6,1136A22,22 0 0 1 339.6,1114L339.6,1070.4A22,22 0 0 1 361.6,1048.4Z" fill="#fff" stroke="#1f1f1f" stroke-width="1.35"/>
<path d="M361.6,1054.1L429.6,1054.1A16.3,16.3 0 0 1 445.9,1070.4L445.9,1114A16.3,16.3 0 0 1 429.6,1130.3L361.6,1130.3A16.3,16.3 0 0 1 345.3,1114L345.3,1070.4A16.3,16.3 0 0 1 361.6,1054.1Z" fill="none" stroke="#1f1f1f" stroke-width="1.35"/>
<path d="M361.6,1056.8L429.6,1056.8A13.6,13.6 0 0 1 443.2,1070.4L443.2,1114A13.6,13.6 0 0 1 429.6,1127.6L361.6,1127.6A13.6,13.6 0 0 1 348,1114L348,1070.4A13.6,13.6 0 0 1 361.6,1056.8Z" fill="none" stroke="#1f1f1f" stroke-width="1.35"/>
<text x="396.3" y="1104.7" font-size="35" fill="#485457" text-anchor="middle" textLength="81.3" lengthAdjust="spacingAndGlyphs" stroke="#485457" stroke-width="0.55">СОН</text>
<path d="M491.6,1048.4L559.6,1048.4A22,22 0 0 1 581.6,1070.4L581.6,1114A22,22 0 0 1 559.6,1136L491.6,1136A22,22 0 0 1 469.6,1114L469.6,1070.4A22,22 0 0 1 491.6,1048.4Z" fill="#fff" stroke="#1f1f1f" stroke-width="1.35"/>
<path d="M491.6,1054.1L559.6,1054.1A16.3,16.3 0 0 1 575.9,1070.4L575.9,1114A16.3,16.3 0 0 1 559.6,1130.3L491.6,1130.3A16.3,16.3 0 0 1 475.3,1114L475.3,1070.4A16.3,16.3 0 0 1 491.6,1054.1Z" fill="none" stroke="#1f1f1f" stroke-width="1.35"/>
<path d="M491.6,1056.8L559.6,1056.8A13.6,13.6 0 0 1 573.2,1070.4L573.2,1114A13.6,13.6 0 0 1 559.6,1127.6L491.6,1127.6A13.6,13.6 0 0 1 478,1114L478,1070.4A13.6,13.6 0 0 1 491.6,1056.8Z" fill="none" stroke="#1f1f1f" stroke-width="1.35"/>
<text x="525.4" y="1087" font-size="16" fill="#485457" text-anchor="middle" textLength="47.6" lengthAdjust="spacingAndGlyphs" >СПЕЦ</text>
<text x="525.5" y="1107.6" font-size="16" fill="#485457" text-anchor="middle" textLength="84.6" lengthAdjust="spacingAndGlyphs" >ФУНКЦИИ</text>
<path d="M233,1155.6L300.4,1155.6A22,22 0 0 1 322.4,1177.6L322.4,1221A22,22 0 0 1 300.4,1243L233,1243A22,22 0 0 1 211,1221L211,1177.6A22,22 0 0 1 233,1155.6Z" fill="#fff" stroke="#1f1f1f" stroke-width="1.9"/>
<path d="M233,1161.3L300.4,1161.3A16.3,16.3 0 0 1 316.7,1177.6L316.7,1221A16.3,16.3 0 0 1 300.4,1237.3L233,1237.3A16.3,16.3 0 0 1 216.7,1221L216.7,1177.6A16.3,16.3 0 0 1 233,1161.3Z" fill="none" stroke="#1f1f1f" stroke-width="1.3"/>
<path d="M233,1164L300.4,1164A13.6,13.6 0 0 1 314,1177.6L314,1221A13.6,13.6 0 0 1 300.4,1234.6L233,1234.6A13.6,13.6 0 0 1 219.4,1221L219.4,1177.6A13.6,13.6 0 0 1 233,1164Z" fill="none" stroke="#1f1f1f" stroke-width="1.3"/>
<text x="266.8" y="1193.6" font-size="21.8" fill="#485457" text-anchor="middle" textLength="75.78" lengthAdjust="spacingAndGlyphs" >ВРЕМЯ</text>
<text x="267.2" y="1220.6" font-size="21.8" fill="#485457" text-anchor="middle" textLength="43.78" lengthAdjust="spacingAndGlyphs" >ВКЛ</text>
<path d="M361.6,1155.6L429.6,1155.6A22,22 0 0 1 451.6,1177.6L451.6,1221A22,22 0 0 1 429.6,1243L361.6,1243A22,22 0 0 1 339.6,1221L339.6,1177.6A22,22 0 0 1 361.6,1155.6Z" fill="#fff" stroke="#1f1f1f" stroke-width="1.35"/>
<path d="M361.6,1161.3L429.6,1161.3A16.3,16.3 0 0 1 445.9,1177.6L445.9,1221A16.3,16.3 0 0 1 429.6,1237.3L361.6,1237.3A16.3,16.3 0 0 1 345.3,1221L345.3,1177.6A16.3,16.3 0 0 1 361.6,1161.3Z" fill="none" stroke="#1f1f1f" stroke-width="1.35"/>
<path d="M361.6,1164L429.6,1164A13.6,13.6 0 0 1 443.2,1177.6L443.2,1221A13.6,13.6 0 0 1 429.6,1234.6L361.6,1234.6A13.6,13.6 0 0 1 348,1221L348,1177.6A13.6,13.6 0 0 1 361.6,1164Z" fill="none" stroke="#1f1f1f" stroke-width="1.35"/>
<text x="396" y="1193.6" font-size="21.8" fill="#485457" text-anchor="middle" textLength="76.18" lengthAdjust="spacingAndGlyphs" >ВРЕМЯ</text>
<text x="396.5" y="1220.6" font-size="21.8" fill="#485457" text-anchor="middle" textLength="63.18" lengthAdjust="spacingAndGlyphs" >ВЫКЛ</text>
<path d="M491.6,1155.6L559.6,1155.6A22,22 0 0 1 581.6,1177.6L581.6,1221A22,22 0 0 1 559.6,1243L491.6,1243A22,22 0 0 1 469.6,1221L469.6,1177.6A22,22 0 0 1 491.6,1155.6Z" fill="#fff" stroke="#1f1f1f" stroke-width="1.35"/>
<path d="M491.6,1161.3L559.6,1161.3A16.3,16.3 0 0 1 575.9,1177.6L575.9,1221A16.3,16.3 0 0 1 559.6,1237.3L491.6,1237.3A16.3,16.3 0 0 1 475.3,1221L475.3,1177.6A16.3,16.3 0 0 1 491.6,1161.3Z" fill="none" stroke="#1f1f1f" stroke-width="1.35"/>
<path d="M491.6,1164L559.6,1164A13.6,13.6 0 0 1 573.2,1177.6L573.2,1221A13.6,13.6 0 0 1 559.6,1234.6L491.6,1234.6A13.6,13.6 0 0 1 478,1221L478,1177.6A13.6,13.6 0 0 1 491.6,1164Z" fill="none" stroke="#1f1f1f" stroke-width="1.35"/>
<text x="525.2" y="1192.4" font-size="16" fill="#485457" text-anchor="middle" textLength="27.2" lengthAdjust="spacingAndGlyphs" >ОК</text>
<line x1="484" y1="1196.8" x2="566.4" y2="1196.8" stroke="#485457" stroke-width="2.6"/>
<text x="526.1" y="1218.4" font-size="16" fill="#485457" text-anchor="middle" textLength="80.6" lengthAdjust="spacingAndGlyphs" >ОТМЕНА</text>
<circle cx="263.9" cy="1288.85" r="22.6" fill="#fff" stroke="#1f1f1f" stroke-width="1.3"/>
<circle cx="263.9" cy="1288.85" r="16.4" fill="none" stroke="#1f1f1f" stroke-width="1.3"/>
<circle cx="263.9" cy="1288.85" r="13.2" fill="none" stroke="#1f1f1f" stroke-width="1.3"/>
<circle cx="395.9" cy="1288.8" r="22.6" fill="#fff" stroke="#1f1f1f" stroke-width="1.3"/>
<circle cx="395.9" cy="1288.8" r="16.4" fill="none" stroke="#1f1f1f" stroke-width="1.3"/>
<circle cx="395.9" cy="1288.8" r="13.2" fill="none" stroke="#1f1f1f" stroke-width="1.3"/>
<circle cx="524.6" cy="1288.85" r="22.6" fill="#fff" stroke="#1f1f1f" stroke-width="1.3"/>
<circle cx="524.6" cy="1288.85" r="16.4" fill="none" stroke="#1f1f1f" stroke-width="1.3"/>
<circle cx="524.6" cy="1288.85" r="13.2" fill="none" stroke="#1f1f1f" stroke-width="1.3"/>
<text x="263.5" y="1336.2" font-size="19.9" fill="#5e6467" text-anchor="middle" textLength="56.59" lengthAdjust="spacingAndGlyphs" >БЛОК</text>
<text x="393.65" y="1334" font-size="16.6" fill="#5e6467" text-anchor="middle" textLength="107.16" lengthAdjust="spacingAndGlyphs" >ПОДСВЕТКА</text>
<text x="524.55" y="1336.3" font-size="20" fill="#5e6467" text-anchor="middle" textLength="73.5" lengthAdjust="spacingAndGlyphs" >СБРОС</text>
<text x="396.5" y="1436.4" font-size="55.8" fill="#646464" text-anchor="middle" textLength="148.5" lengthAdjust="spacingAndGlyphs" font-weight="bold" >Haier</text>
<path d="M86.2,47.4L322.3,47.4L322.3,181.8" fill="none" stroke="#72838a" stroke-width="4.8" stroke-linejoin="miter" stroke-linecap="butt"/>
<path d="M86.2,164.4L200.5,164.4L200.5,242.7L223.8,242.7" fill="none" stroke="#72838a" stroke-width="4.8" stroke-linejoin="miter" stroke-linecap="butt"/>
<path d="M86.2,273.8L217.5,273.8" fill="none" stroke="#72838a" stroke-width="4.8" stroke-linejoin="miter" stroke-linecap="butt"/>
<path d="M86.2,346.2L217.5,346.2" fill="none" stroke="#72838a" stroke-width="4.8" stroke-linejoin="miter" stroke-linecap="butt"/>
<path d="M86.2,448.9L331.4,448.9L331.4,249.4" fill="none" stroke="#72838a" stroke-width="4.8" stroke-linejoin="miter" stroke-linecap="butt"/>
<path d="M712,47.4L462,47.4L462,235.8" fill="none" stroke="#72838a" stroke-width="4.8" stroke-linejoin="miter" stroke-linecap="butt"/>
<path d="M712,168.4L487,168.4L487,262.6" fill="none" stroke="#72838a" stroke-width="4.8" stroke-linejoin="miter" stroke-linecap="butt"/>
<path d="M712,449.1L442.6,449.1L442.6,413" fill="none" stroke="#72838a" stroke-width="4.8" stroke-linejoin="miter" stroke-linecap="butt"/>
<path d="M86.2,533.8L202.6,533.8" fill="none" stroke="#72838a" stroke-width="4.8" stroke-linejoin="miter" stroke-linecap="butt"/>
<path d="M86.2,684.8L200.4,684.8" fill="none" stroke="#72838a" stroke-width="4.8" stroke-linejoin="miter" stroke-linecap="butt"/>
<path d="M86.2,761.5L244.4,761.5L335.7,721.4" fill="none" stroke="#72838a" stroke-width="4.8" stroke-linejoin="miter" stroke-linecap="butt"/>
<path d="M86.2,885.4L200.4,885.4" fill="none" stroke="#72838a" stroke-width="4.8" stroke-linejoin="miter" stroke-linecap="butt"/>
<path d="M86.2,1009.2L230,1009.2L329,919.6" fill="none" stroke="#72838a" stroke-width="4.8" stroke-linejoin="miter" stroke-linecap="butt"/>
<path d="M86.2,1085.6L200.4,1085.6" fill="none" stroke="#72838a" stroke-width="4.8" stroke-linejoin="miter" stroke-linecap="butt"/>
<path d="M86.2,1198.3L200.4,1198.3" fill="none" stroke="#72838a" stroke-width="4.8" stroke-linejoin="miter" stroke-linecap="butt"/>
<path d="M86.2,1286.3L217.6,1286.3" fill="none" stroke="#72838a" stroke-width="4.8" stroke-linejoin="miter" stroke-linecap="butt"/>
<path d="M86.2,1390L398.6,1390L398.6,1349" fill="none" stroke="#72838a" stroke-width="4.8" stroke-linejoin="miter" stroke-linecap="butt"/>
<path d="M712,554.8L591.8,554.8" fill="none" stroke="#72838a" stroke-width="4.8" stroke-linejoin="miter" stroke-linecap="butt"/>
<path d="M712,684.4L589,684.4" fill="none" stroke="#72838a" stroke-width="4.8" stroke-linejoin="miter" stroke-linecap="butt"/>
<path d="M712,768.8L510.6,768.8L476,886" fill="none" stroke="#72838a" stroke-width="4.8" stroke-linejoin="miter" stroke-linecap="butt"/>
<path d="M397.6,809.6L397.6,832.4L473.5,832.4L473.5,939.1L397.6,939.1L397.6,964.5" fill="none" stroke="#72838a" stroke-width="4.8" stroke-linejoin="miter" stroke-linecap="butt"/>
<path d="M712,890.6L588.4,890.6" fill="none" stroke="#72838a" stroke-width="4.8" stroke-linejoin="miter" stroke-linecap="butt"/>
<path d="M712,1036.8L395,1036.8L395,1067.6" fill="none" stroke="#72838a" stroke-width="4.8" stroke-linejoin="miter" stroke-linecap="butt"/>
<path d="M712,1101.6L588.4,1101.6" fill="none" stroke="#72838a" stroke-width="4.8" stroke-linejoin="miter" stroke-linecap="butt"/>
<path d="M712,1197L588.4,1197" fill="none" stroke="#72838a" stroke-width="4.8" stroke-linejoin="miter" stroke-linecap="butt"/>
<path d="M712,1286.5L561.8,1286.5" fill="none" stroke="#72838a" stroke-width="4.8" stroke-linejoin="miter" stroke-linecap="butt"/>
<path d="M712,1389.6L434.8,1389.6L434.8,1242.4" fill="none" stroke="#72838a" stroke-width="4.8" stroke-linejoin="miter" stroke-linecap="butt"/>
<circle cx="42.3" cy="46.7" r="28.3" fill="#fff"/>
<g transform="translate(42.3,64.38) scale(1.16,1)">
<text x="0" y="0" font-size="49" fill="#1a1a1a" text-anchor="middle" style="font-kerning:none">1</text>
<rect x="-10.69" y="-4.41" width="9.33" height="5.61" fill="#fff"/>
<rect x="3.06" y="-4.41" width="8.82" height="5.61" fill="#fff"/>
</g>
<circle cx="42.3" cy="46.7" r="28.3" fill="none" stroke="#1d1d1d" stroke-width="1.4"/>
<circle cx="44.6" cy="168.5" r="28.3" fill="#fff"/>
<g transform="translate(44.7,186.1) scale(1.03,1)">
<text x="0" y="0" font-size="49" fill="#1a1a1a" text-anchor="middle" style="font-kerning:none">2</text>
</g>
<circle cx="44.6" cy="168.5" r="28.3" fill="none" stroke="#1d1d1d" stroke-width="1.4"/>
<circle cx="42.3" cy="280" r="28.3" fill="#fff"/>
<g transform="translate(42.6,298.7) scale(1,1)">
<text x="0" y="0" font-size="49" fill="#1a1a1a" text-anchor="middle" style="font-kerning:none">3</text>
</g>
<circle cx="42.3" cy="280" r="28.3" fill="none" stroke="#1d1d1d" stroke-width="1.4"/>
<circle cx="42.3" cy="346.2" r="28.3" fill="#fff"/>
<g transform="translate(41.2,364.3) scale(0.97,1)">
<text x="0" y="0" font-size="49" fill="#1a1a1a" text-anchor="middle" style="font-kerning:none">4</text>
</g>
<circle cx="42.3" cy="346.2" r="28.3" fill="none" stroke="#1d1d1d" stroke-width="1.4"/>
<circle cx="42.3" cy="446.2" r="28.3" fill="#fff"/>
<g transform="translate(42.1,464.3) scale(1.03,1)">
<text x="0" y="0" font-size="49" fill="#1a1a1a" text-anchor="middle" style="font-kerning:none">5</text>
</g>
<circle cx="42.3" cy="446.2" r="28.3" fill="none" stroke="#1d1d1d" stroke-width="1.4"/>
<circle cx="44.6" cy="533.8" r="28.3" fill="#fff"/>
<g transform="translate(42.7,551.3) scale(1.03,1)">
<text x="0" y="0" font-size="49" fill="#1a1a1a" text-anchor="middle" style="font-kerning:none">9</text>
</g>
<circle cx="44.6" cy="533.8" r="28.3" fill="none" stroke="#1d1d1d" stroke-width="1.4"/>
<circle cx="44.5" cy="684.8" r="28.3" fill="#fff"/>
<g transform="translate(42.4,703.7) scale(1,1)">
<text x="0" y="0" font-size="49" fill="#1a1a1a" text-anchor="middle" style="font-kerning:none">10</text>
<rect x="-24.31" y="-4.41" width="9.33" height="5.61" fill="#fff"/>
<rect x="-10.57" y="-4.41" width="8.82" height="5.61" fill="#fff"/>
</g>
<circle cx="44.5" cy="684.8" r="28.3" fill="none" stroke="#1d1d1d" stroke-width="1.4"/>
<circle cx="44.6" cy="762" r="28.3" fill="#fff"/>
<g transform="translate(42.8,779.5) scale(1.12,1)">
<text x="0" y="0" font-size="49" fill="#1a1a1a" text-anchor="middle" style="font-kerning:none">11</text>
<rect x="-24.31" y="-4.41" width="9.33" height="5.61" fill="#fff"/>
<rect x="-10.57" y="-4.41" width="8.82" height="5.61" fill="#fff"/>
<rect x="2.94" y="-4.41" width="9.33" height="5.61" fill="#fff"/>
<rect x="16.68" y="-4.41" width="8.82" height="5.61" fill="#fff"/>
</g>
<circle cx="44.6" cy="762" r="28.3" fill="none" stroke="#1d1d1d" stroke-width="1.4"/>
<circle cx="44.6" cy="882" r="28.3" fill="#fff"/>
<g transform="translate(40.9,900.5) scale(1.03,1)">
<text x="0" y="0" font-size="49" fill="#1a1a1a" text-anchor="middle" style="font-kerning:none">12</text>
<rect x="-24.31" y="-4.41" width="9.33" height="5.61" fill="#fff"/>
<rect x="-10.57" y="-4.41" width="8.82" height="5.61" fill="#fff"/>
</g>
<circle cx="44.6" cy="882" r="28.3" fill="none" stroke="#1d1d1d" stroke-width="1.4"/>
<circle cx="44.6" cy="1009.5" r="28.3" fill="#fff"/>
<g transform="translate(42.8,1026.8) scale(1.01,1)">
<text x="0" y="0" font-size="49" fill="#1a1a1a" text-anchor="middle" style="font-kerning:none">13</text>
<rect x="-24.31" y="-4.41" width="9.33" height="5.61" fill="#fff"/>
<rect x="-10.57" y="-4.41" width="8.82" height="5.61" fill="#fff"/>
</g>
<circle cx="44.6" cy="1009.5" r="28.3" fill="none" stroke="#1d1d1d" stroke-width="1.4"/>
<circle cx="44.6" cy="1083.3" r="28.3" fill="#fff"/>
<g transform="translate(39.9,1101.4) scale(0.97,1)">
<text x="0" y="0" font-size="49" fill="#1a1a1a" text-anchor="middle" style="font-kerning:none">14</text>
<rect x="-24.31" y="-4.41" width="9.33" height="5.61" fill="#fff"/>
<rect x="-10.57" y="-4.41" width="8.82" height="5.61" fill="#fff"/>
</g>
<circle cx="44.6" cy="1083.3" r="28.3" fill="none" stroke="#1d1d1d" stroke-width="1.4"/>
<circle cx="44.6" cy="1198" r="28.3" fill="#fff"/>
<g transform="translate(42.7,1216.1) scale(1.03,1)">
<text x="0" y="0" font-size="49" fill="#1a1a1a" text-anchor="middle" style="font-kerning:none">15</text>
<rect x="-24.31" y="-4.41" width="9.33" height="5.61" fill="#fff"/>
<rect x="-10.57" y="-4.41" width="8.82" height="5.61" fill="#fff"/>
</g>
<circle cx="44.6" cy="1198" r="28.3" fill="none" stroke="#1d1d1d" stroke-width="1.4"/>
<circle cx="44.6" cy="1286.5" r="28.3" fill="#fff"/>
<g transform="translate(41.7,1304.5) scale(1.03,1)">
<text x="0" y="0" font-size="49" fill="#1a1a1a" text-anchor="middle" style="font-kerning:none">16</text>
<rect x="-24.31" y="-4.41" width="9.33" height="5.61" fill="#fff"/>
<rect x="-10.57" y="-4.41" width="8.82" height="5.61" fill="#fff"/>
</g>
<circle cx="44.6" cy="1286.5" r="28.3" fill="none" stroke="#1d1d1d" stroke-width="1.4"/>
<circle cx="44.6" cy="1386.5" r="28.3" fill="#fff"/>
<g transform="translate(40.9,1404.5) scale(1.03,1)">
<text x="0" y="0" font-size="49" fill="#1a1a1a" text-anchor="middle" style="font-kerning:none">17</text>
<rect x="-24.31" y="-4.41" width="9.33" height="5.61" fill="#fff"/>
<rect x="-10.57" y="-4.41" width="8.82" height="5.61" fill="#fff"/>
</g>
<circle cx="44.6" cy="1386.5" r="28.3" fill="none" stroke="#1d1d1d" stroke-width="1.4"/>
<circle cx="748.7" cy="48.5" r="28.3" fill="#fff"/>
<g transform="translate(748.8,66.4) scale(1.03,1)">
<text x="0" y="0" font-size="49" fill="#1a1a1a" text-anchor="middle" style="font-kerning:none">6</text>
</g>
<circle cx="748.7" cy="48.5" r="28.3" fill="none" stroke="#1d1d1d" stroke-width="1.4"/>
<circle cx="749.2" cy="165" r="28.3" fill="#fff"/>
<g transform="translate(748.9,183.3) scale(1.03,1)">
<text x="0" y="0" font-size="49" fill="#1a1a1a" text-anchor="middle" style="font-kerning:none">7</text>
</g>
<circle cx="749.2" cy="165" r="28.3" fill="none" stroke="#1d1d1d" stroke-width="1.4"/>
<circle cx="748.7" cy="445.9" r="28.3" fill="#fff"/>
<g transform="translate(749.3,463.5) scale(1.03,1)">
<text x="0" y="0" font-size="49" fill="#1a1a1a" text-anchor="middle" style="font-kerning:none">8</text>
</g>
<circle cx="748.7" cy="445.9" r="28.3" fill="none" stroke="#1d1d1d" stroke-width="1.4"/>
<circle cx="750.6" cy="556.7" r="28.3" fill="#fff"/>
<g transform="translate(748.6,575.8) scale(0.91,1)">
<text x="0" y="0" font-size="49" fill="#1a1a1a" text-anchor="middle" style="font-kerning:none">18</text>
<rect x="-24.31" y="-4.41" width="9.33" height="5.61" fill="#fff"/>
<rect x="-10.57" y="-4.41" width="8.82" height="5.61" fill="#fff"/>
</g>
<circle cx="750.6" cy="556.7" r="28.3" fill="none" stroke="#1d1d1d" stroke-width="1.4"/>
<circle cx="750.6" cy="681.8" r="28.3" fill="#fff"/>
<g transform="translate(753.7,700.3) scale(0.92,1)">
<text x="0" y="0" font-size="49" fill="#1a1a1a" text-anchor="middle" style="font-kerning:none">19</text>
<rect x="-24.31" y="-4.41" width="9.33" height="5.61" fill="#fff"/>
<rect x="-10.57" y="-4.41" width="8.82" height="5.61" fill="#fff"/>
</g>
<circle cx="750.6" cy="681.8" r="28.3" fill="none" stroke="#1d1d1d" stroke-width="1.4"/>
<circle cx="750.6" cy="770.4" r="28.3" fill="#fff"/>
<g transform="translate(753.7,789.2) scale(0.94,1)">
<text x="0" y="0" font-size="49" fill="#1a1a1a" text-anchor="middle" style="font-kerning:none">20</text>
</g>
<circle cx="750.6" cy="770.4" r="28.3" fill="none" stroke="#1d1d1d" stroke-width="1.4"/>
<circle cx="750.6" cy="885.6" r="28.3" fill="#fff"/>
<g transform="translate(752.8,903.9) scale(1,1)">
<text x="0" y="0" font-size="49" fill="#1a1a1a" text-anchor="middle" style="font-kerning:none">21</text>
<rect x="2.94" y="-4.41" width="9.33" height="5.61" fill="#fff"/>
<rect x="16.68" y="-4.41" width="8.82" height="5.61" fill="#fff"/>
</g>
<circle cx="750.6" cy="885.6" r="28.3" fill="none" stroke="#1d1d1d" stroke-width="1.4"/>
<circle cx="750.6" cy="1029.9" r="28.3" fill="#fff"/>
<g transform="translate(752,1047.6) scale(0.94,1)">
<text x="0" y="0" font-size="49" fill="#1a1a1a" text-anchor="middle" style="font-kerning:none">22</text>
</g>
<circle cx="750.6" cy="1029.9" r="28.3" fill="none" stroke="#1d1d1d" stroke-width="1.4"/>
<circle cx="750.6" cy="1101.7" r="28.3" fill="#fff"/>
<g transform="translate(752,1119.7) scale(0.94,1)">
<text x="0" y="0" font-size="49" fill="#1a1a1a" text-anchor="middle" style="font-kerning:none">23</text>
</g>
<circle cx="750.6" cy="1101.7" r="28.3" fill="none" stroke="#1d1d1d" stroke-width="1.4"/>
<circle cx="750.6" cy="1193.6" r="28.3" fill="#fff"/>
<g transform="translate(751.5,1212.2) scale(0.94,1)">
<text x="0" y="0" font-size="49" fill="#1a1a1a" text-anchor="middle" style="font-kerning:none">24</text>
</g>
<circle cx="750.6" cy="1193.6" r="28.3" fill="none" stroke="#1d1d1d" stroke-width="1.4"/>
<circle cx="750.6" cy="1286.5" r="28.3" fill="#fff"/>
<g transform="translate(752.4,1304.5) scale(0.94,1)">
<text x="0" y="0" font-size="49" fill="#1a1a1a" text-anchor="middle" style="font-kerning:none">25</text>
</g>
<circle cx="750.6" cy="1286.5" r="28.3" fill="none" stroke="#1d1d1d" stroke-width="1.4"/>
<circle cx="750.6" cy="1388.5" r="28.3" fill="#fff"/>
<g transform="translate(752.4,1407.1) scale(0.94,1)">
<text x="0" y="0" font-size="49" fill="#1a1a1a" text-anchor="middle" style="font-kerning:none">26</text>
</g>
<circle cx="750.6" cy="1388.5" r="28.3" fill="none" stroke="#1d1d1d" stroke-width="1.4"/>
</svg>
</body></html>
